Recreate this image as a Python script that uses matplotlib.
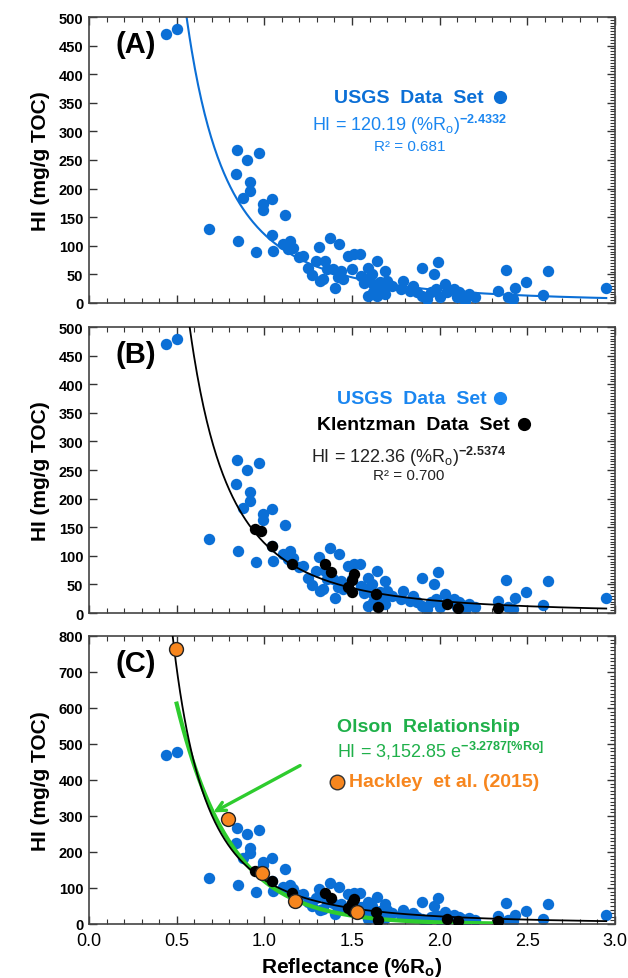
import numpy as np
import matplotlib
matplotlib.use("Agg")
import matplotlib.pyplot as plt
from matplotlib.ticker import MultipleLocator

plt.rcParams['font.family'] = ['Liberation Sans', 'DejaVu Sans']
plt.rcParams['mathtext.fontset'] = 'custom'
plt.rcParams['mathtext.rm'] = 'Liberation Sans'
plt.rcParams['mathtext.bf'] = 'Liberation Sans:bold'
plt.rcParams['mathtext.it'] = 'Liberation Sans:italic'

# USGS data set (%Ro, HI)
usgs_ro = [0.44, 0.50, 0.685, 0.844, 0.84, 0.85, 0.88, 0.90, 0.918, 0.918,
           0.953, 0.97, 0.994, 0.994, 1.046, 1.046, 1.05, 1.108, 1.118, 1.147,
           1.137, 1.165, 1.20, 1.22, 1.31, 1.295, 1.27, 1.32, 1.375, 1.428,
           1.346, 1.337, 1.403, 1.394, 1.44, 1.48, 1.51, 1.546, 1.50, 1.45,
           1.593, 1.645, 1.612, 1.69, 1.70, 1.622, 1.593, 1.64, 1.69, 1.584,
           1.66, 1.79, 1.78, 1.83, 1.87, 1.90, 1.99, 1.97, 1.926, 1.90,
           1.98, 2.03, 2.04, 2.08, 2.11, 2.06, 2.13, 2.145, 2.17, 2.20,
           2.10, 2.38, 2.33, 2.39, 2.43, 2.42, 2.49, 2.59, 2.62, 2.95,
           1.25, 1.36, 1.42, 1.55, 1.57, 1.62, 1.67, 1.73, 1.85, 1.95, 2.00]
usgs_hi = [470, 479, 129, 267, 225, 108, 184, 250, 211, 196,
           89, 262, 173, 163, 182, 118, 91, 103, 154, 109,
           94, 97, 80, 82, 98, 73, 49, 39, 113, 103,
           74, 42, 27, 59, 56, 83, 86, 86, 59, 42,
           62, 74, 51, 56, 39, 33, 13, 13, 16, 42,
           37, 39, 24, 21, 19, 61, 71, 51, 7, 13,
           24, 33, 19, 24, 19, 22, 14, 4, 16, 10,
           10, 58, 21, 10, 26, 7, 37, 14, 56, 26,
           62, 60, 45, 48, 35, 20, 25, 30, 30, 20, 10]

# Klentzman data set
klentz_ro = [0.947, 0.98, 1.046, 1.156, 1.346, 1.378, 1.51, 1.50, 1.48, 1.50,
             1.637, 1.65, 2.044, 2.107, 2.335]
klentz_hi = [147, 143, 118, 86, 86, 71, 68, 57, 45, 36,
             33, 10, 15, 8, 9]

# Hackley et al. (2015)
hack_ro = [0.496, 0.795, 0.985, 1.175, 1.527]
hack_hi = [764, 292, 141, 65, 32]

# fits
usgs_a, usgs_b = 120.19, -2.4332
comb_a, comb_b = 122.36, -2.5374
olson_a, olson_k = 3152.85, -3.2787

BLUE = '#0b6fd6'
BLUE_TXT = '#1a86f0'
GREEN = '#2ecc2e'
GREEN_TXT = '#1fb04a'
ORANGE = '#f7861e'

fig = plt.figure(figsize=(6.28, 9.79), dpi=100)
ax_a = fig.add_axes([0.1417, 0.6895, 0.8376, 0.2921])
ax_b = fig.add_axes([0.1417, 0.3728, 0.8376, 0.2921])
ax_c = fig.add_axes([0.1417, 0.0552, 0.8376, 0.2942])

ms = 8.2


def style(ax, ymax, ystep, yminor, xlabels):
    ax.set_xlim(0, 3.0)
    ax.set_ylim(0, ymax)
    ax.xaxis.set_major_locator(MultipleLocator(0.5))
    ax.xaxis.set_minor_locator(MultipleLocator(0.1))
    ax.yaxis.set_major_locator(MultipleLocator(ystep))
    ax.yaxis.set_minor_locator(MultipleLocator(yminor))
    ax.tick_params(which='both', direction='in', top=True, bottom=True,
                   left=True, right=True, color='#333333')
    ax.tick_params(which='major', length=6, width=1)
    ax.tick_params(which='minor', length=3.5, width=0.8, left=False)
    ax.tick_params(axis='y', which='major', labelsize=10.5, pad=4)
    for lab in ax.get_yticklabels():
        lab.set_fontweight('bold')
    if xlabels:
        ax.tick_params(axis='x', labelsize=13, pad=6)
        ax.xaxis.set_major_formatter(matplotlib.ticker.FormatStrFormatter('%.1f'))
    else:
        ax.tick_params(axis='x', labelbottom=False)
    for sp in ax.spines.values():
        sp.set_color('#444444')
        sp.set_linewidth(1.2)
    ax.set_ylabel('HI (mg/g TOC)', fontsize=15, fontweight='bold', labelpad=6)


# ---- panel A
ax = ax_a
xs = np.linspace(0.5, 2.95, 400)
ax.plot(xs, usgs_a * xs ** usgs_b, color=BLUE, lw=1.5, zorder=2)
ax.plot(usgs_ro, usgs_hi, 'o', color=BLUE, ms=ms, mec='none', zorder=3)
style(ax, 500, 50, 5, False)
ax.text(0.05, 0.905, '(A)', transform=ax.transAxes, fontsize=21,
        fontweight='bold', va='center')
ax.text(0.75, 0.719, 'USGS  Data  Set', transform=ax.transAxes, fontsize=14,
        fontweight='bold', color=BLUE, ha='right', va='center')
ax.plot([0.781], [0.719], 'o', transform=ax.transAxes, color=BLUE, ms=9.5, mec='none')
ax.text(0.61, 0.626, r'HI = 120.19 (%R$_\mathrm{o}$)$^{\mathbf{-2.4332}}$',
        transform=ax.transAxes, fontsize=13, color=BLUE_TXT, ha='center', va='center')
ax.text(0.61, 0.55, 'R² = 0.681', transform=ax.transAxes, fontsize=11,
        color=BLUE_TXT, ha='center', va='center')

# ---- panel B
ax = ax_b
xs = np.linspace(0.5, 2.95, 400)
ax.plot(usgs_ro, usgs_hi, 'o', color=BLUE, ms=ms, mec='none', zorder=2)
ax.plot(xs, comb_a * xs ** comb_b, color='black', lw=1.3, zorder=3)
ax.plot(klentz_ro, klentz_hi, 'o', color='black', ms=ms, mec='none', zorder=4)
style(ax, 500, 50, 5, False)
ax.text(0.05, 0.905, '(B)', transform=ax.transAxes, fontsize=21,
        fontweight='bold', va='center')
ax.text(0.755, 0.751, 'USGS  Data  Set', transform=ax.transAxes, fontsize=14,
        fontweight='bold', color=BLUE_TXT, ha='right', va='center')
ax.plot([0.781], [0.751], 'o', transform=ax.transAxes, color=BLUE_TXT, ms=9.5, mec='none')
ax.text(0.80, 0.661, 'Klentzman  Data  Set', transform=ax.transAxes, fontsize=14,
        fontweight='bold', color='black', ha='right', va='center')
ax.plot([0.827], [0.661], 'o', transform=ax.transAxes, color='black', ms=9.5, mec='none')
ax.text(0.608, 0.55, r'HI = 122.36 (%R$_\mathrm{o}$)$^{\mathbf{-2.5374}}$',
        transform=ax.transAxes, fontsize=13, color='#222222', ha='center', va='center')
ax.text(0.608, 0.4836, 'R² = 0.700', transform=ax.transAxes, fontsize=11,
        color='#222222', ha='center', va='center')

# ---- panel C
ax = ax_c
xs = np.linspace(0.47, 2.95, 400)
xo = np.linspace(0.5, 2.3, 300)
ax.plot(usgs_ro, usgs_hi, 'o', color=BLUE, ms=ms, mec='none', zorder=2)
ax.plot(xo, olson_a * np.exp(olson_k * xo), color=GREEN, lw=3, zorder=3)
ax.plot(xs, comb_a * xs ** comb_b, color='black', lw=1.3, zorder=4)
ax.plot(klentz_ro, klentz_hi, 'o', color='black', ms=ms, mec='none', zorder=5)
ax.plot(hack_ro, hack_hi, 'o', color=ORANGE, ms=10, mec='#222222', mew=1.0, zorder=6)
style(ax, 800, 100, 10, True)
ax.annotate('', xy=(0.709, 310), xytext=(1.204, 440),
            arrowprops=dict(arrowstyle='->', color=GREEN, lw=2.4,
                            mutation_scale=16, shrinkA=0, shrinkB=0), zorder=7)
ax.text(0.05, 0.905, '(C)', transform=ax.transAxes, fontsize=21,
        fontweight='bold', va='center')
ax.text(0.645, 0.686, 'Olson  Relationship', transform=ax.transAxes, fontsize=14,
        fontweight='bold', color=GREEN_TXT, ha='center', va='center')
ax.text(0.668, 0.605, r'HI = 3,152.85 e$^{\mathbf{-3.2787[\%Ro]}}$',
        transform=ax.transAxes, fontsize=13, color=GREEN_TXT, ha='center', va='center')
ax.plot([0.471], [0.494], 'o', transform=ax.transAxes, color=ORANGE, ms=10.5,
        mec='#333333', mew=1.0)
ax.text(0.495, 0.494, 'Hackley  et al. (2015)', transform=ax.transAxes, fontsize=14,
        fontweight='bold', color=ORANGE, ha='left', va='center')
ax.set_xlabel(r'Reflectance (%R$_\mathbf{o}$)', fontsize=15, fontweight='bold', labelpad=4)

fig.savefig('out.png', dpi=100)
